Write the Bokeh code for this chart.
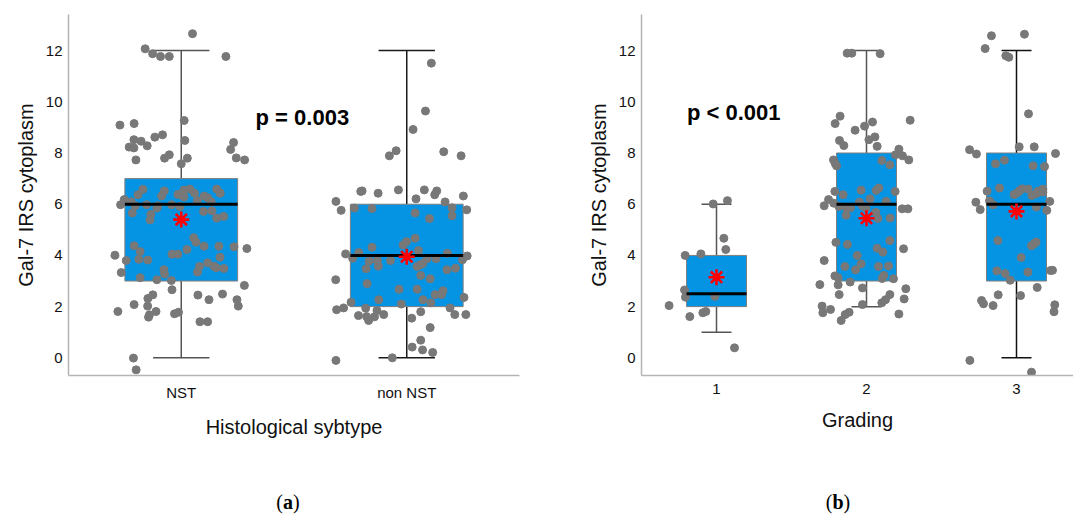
from bokeh.plotting import figure
from bokeh.models import Range1d, FactorRange, FixedTicker, Label, Div, ColumnDataSource
from bokeh.layouts import row, column
from bokeh.embed import file_html
from bokeh.resources import INLINE

# ---------------- data: panel (a) ----------------
a_categories = ["NST", "non NST"]
a_q1 = [3.0, 2.0]
a_median = [6.0, 4.0]
a_q3 = [7.0, 6.0]
a_low = [0.0, 0.0]
a_high = [12.0, 12.0]
a_mean = [5.4, 3.95]

nst_values = [12.66, 12.07, 11.88, 11.77, 11.77, 11.77, 9.27, 9.09, 9.15, 8.49, 8.52, 8.46, 8.28, 8.62,
              8.71, 8.23, 8.20, 8.41, 8.14, 7.73, 7.80, 7.93, 7.80, 7.58, 7.81, 7.73, 6.58, 6.18, 6.10,
              5.98, 6.37, 5.94, 5.66, 5.98, 5.60, 5.39, 5.94, 5.85, 6.32, 6.52, 5.98, 6.38, 5.91, 6.55,
              6.59, 6.43, 6.28, 6.15, 6.32, 6.25, 6.10, 6.59, 6.43, 5.72, 5.74, 5.46, 5.52, 4.38, 4.15,
              4.01, 3.80, 3.85, 3.82, 3.33, 4.05, 4.05, 4.23, 4.69, 4.52, 4.36, 4.36, 4.34, 4.27, 3.93,
              3.57, 3.35, 3.71, 3.58, 3.52, 3.49, 3.44, 3.28, 3.13, 3.05, 3.02, 2.83, 2.66, 2.32, 2.46,
              2.08, 2.02, 1.81, 1.68, 1.59, 1.81, 1.72, 1.78, 2.45, 2.27, 2.49, 2.27, 2.02, 1.41, 1.41,
              -0.01, -0.47]
nst_jitter = [0.050, -0.160, -0.127, -0.092, -0.053, 0.198, 0.013, -0.272, -0.209, 0.016, -0.210, -0.178,
              -0.151, -0.117, -0.083, -0.231, -0.210, 0.232, 0.219, -0.201, -0.074, -0.053, 0.027, 0.000,
              0.244, 0.281, -0.170, -0.253, -0.222, -0.269, -0.192, -0.204, -0.217, -0.154, -0.135, -0.138,
              -0.104, -0.108, -0.087, -0.075, -0.043, -0.015, -0.006, 0.012, 0.038, 0.059, 0.012, 0.071,
              0.102, 0.117, 0.133, 0.157, 0.173, 0.099, 0.136, 0.157, 0.188, -0.209, -0.182, -0.294,
              -0.244, -0.188, -0.149, -0.266, -0.041, -0.015, 0.025, 0.055, 0.065, 0.101, 0.167, 0.234,
              0.291, 0.172, 0.081, 0.072, 0.117, 0.145, 0.155, 0.189, -0.077, -0.074, -0.182, -0.108,
              -0.044, 0.280, -0.041, -0.148, -0.126, -0.209, -0.149, -0.281, -0.141, -0.145, -0.112,
              -0.030, -0.012, 0.074, 0.123, 0.183, 0.247, 0.253, 0.083, 0.117, -0.212, -0.200]

non_nst_values = [11.51, 9.64, 8.92, 7.89, 8.09, 8.05, 7.89, 6.50, 6.52, 6.43, 6.56, 6.21, 6.56, 6.37,
                  6.52, 6.09, 6.32, 6.11, 5.76, 5.85, 5.83, 5.66, 5.44, 5.86, 5.55, 5.78, 4.06, 3.89,
                  4.11, 4.32, 3.78, 3.80, 3.58, 3.48, 3.80, 4.41, 4.54, 4.67, 4.19, 3.57, 3.63, 3.68,
                  3.87, 3.87, 4.08, 3.83, 3.98, 3.44, 3.50, 3.22, 3.09, 3.05, 2.90, 2.68, 2.68, 2.47,
                  2.47, 2.62, 2.27, 2.27, 2.36, 2.17, 2.10, 2.15, 1.88, 1.95, 1.94, 1.65, 1.61, 1.46,
                  1.60, 1.85, 1.69, 1.55, 1.80, 1.95, 1.69, 1.69, 1.18, 0.42, 0.69, 0.31, 0.21, 0.00,
                  -0.10]
non_nst_jitter = [0.109, 0.083, 0.028, -0.077, -0.047, 0.164, 0.241, -0.204, -0.198, -0.127, -0.037,
                  0.041, 0.078, 0.124, 0.133, 0.170, 0.251, -0.314, -0.291, -0.232, -0.154, 0.037,
                  0.101, 0.201, 0.201, 0.266, -0.271, -0.240, -0.213, -0.154, -0.167, -0.130, -0.126,
                  -0.180, -0.072, -0.016, -0.001, 0.037, 0.052, 0.046, 0.059, 0.071, 0.090, 0.130,
                  0.180, 0.247, 0.268, 0.178, 0.216, 0.062, 0.104, -0.315, -0.176, -0.034, 0.046,
                  0.126, 0.154, 0.161, -0.124, 0.072, 0.254, -0.247, -0.024, 0.107, -0.311, -0.280,
                  -0.182, -0.214, -0.178, -0.169, -0.143, -0.132, -0.102, 0.022, 0.062, 0.192, 0.213,
                  0.262, 0.104, 0.024, 0.062, 0.070, 0.115, -0.064, -0.314]

# ---------------- data: panel (b) ----------------
b_categories = ["1", "2", "3"]
b_q1 = [2.0, 3.0, 3.0]
b_median = [2.5, 6.0, 6.0]
b_q3 = [4.0, 8.0, 8.0]
b_low = [1.0, 2.0, 0.0]
b_high = [6.0, 12.0, 12.0]
b_mean = [3.15, 5.45, 5.72]

g1_values = [6.01, 6.14, 4.67, 4.23, 4.00, 4.06, 2.65, 2.37, 2.40, 2.04, 1.61, 1.76, 1.81, 0.39]
g1_jitter = [-0.022, 0.073, 0.049, 0.062, -0.209, -0.104, -0.213, -0.207, -0.011, -0.316, -0.178,
             -0.091, -0.071, 0.120]

g2_values = [11.90, 11.90, 11.88, 9.44, 9.15, 9.21, 9.28, 9.05, 8.89, 8.63, 8.52, 8.49, 8.29, 8.26,
             8.15, 7.93, 7.89, 7.73, 7.73, 7.60, 7.50, 7.71, 7.54, 6.50, 6.37, 6.18, 5.94, 6.04, 5.91,
             5.85, 5.86, 5.57, 6.55, 6.08, 5.94, 5.86, 6.21, 6.54, 6.63, 5.68, 5.44, 6.11, 6.50, 5.46,
             5.82, 5.82, 4.51, 4.43, 3.80, 4.00, 3.67, 3.44, 3.57, 4.28, 4.13, 4.58, 4.26, 3.57, 3.59,
             3.20, 3.13, 2.96, 2.86, 2.85, 3.10, 3.22, 3.09, 2.73, 2.47, 2.47, 2.70, 2.30, 2.15, 2.27,
             2.08, 2.02, 1.76, 1.89, 1.69, 1.78, 1.46, 1.71]
g2_jitter = [-0.129, -0.098, 0.091, -0.176, -0.209, 0.040, 0.291, -0.013, -0.076, 0.056, 0.016, -0.180,
             -0.151, 0.071, 0.216, 0.193, 0.240, 0.282, -0.220, -0.209, -0.200, 0.102, 0.156, -0.211,
             -0.156, -0.253, -0.282, -0.218, -0.184, -0.133, -0.107, -0.136, -0.036, -0.047, -0.027,
             -0.004, 0.024, 0.064, 0.082, 0.062, 0.076, 0.131, 0.191, 0.158, 0.238, 0.276, -0.204,
             -0.127, -0.282, -0.062, -0.036, -0.073, -0.144, 0.071, 0.109, 0.156, 0.247, 0.080, 0.147,
             -0.211, -0.189, -0.109, -0.311, -0.189, 0.104, 0.116, 0.180, -0.027, -0.182, 0.156, 0.262,
             0.251, 0.102, 0.127, -0.027, -0.296, -0.291, -0.240, -0.142, -0.116, -0.169, 0.216]

g3_values = [12.58, 12.64, 12.08, 11.80, 11.74, 9.53, 8.13, 7.96, 8.24, 8.24, 7.58, 7.72, 7.50, 7.47,
             6.63, 6.51, 6.38, 6.45, 6.54, 6.60, 6.59, 6.34, 6.41, 6.51, 6.47, 6.59, 6.08, 5.79, 6.13,
             5.98, 5.89, 5.76, 6.11, 4.58, 4.38, 4.45, 4.52, 3.92, 3.40, 3.29, 3.35, 3.03, 3.41, 2.46,
             2.43, 2.75, 2.24, 2.11, 2.04, -0.10, -0.56, 7.98, 3.42, 2.07, 1.80]
g3_jitter = [-0.167, 0.053, -0.209, -0.071, -0.051, 0.080, -0.313, -0.267, 0.018, 0.118, -0.140, -0.080,
             0.111, 0.187, -0.113, -0.196, -0.016, 0.007, 0.022, 0.038, 0.078, 0.102, 0.131, 0.144,
             0.176, 0.176, -0.271, -0.242, -0.180, -0.156, 0.133, 0.202, 0.222, -0.124, 0.100, 0.116,
             0.131, 0.031, -0.131, -0.076, 0.076, -0.042, 0.227, -0.122, 0.027, 0.138, -0.233, -0.220,
             -0.156, -0.311, 0.100, 0.260, 0.240, 0.255, 0.250]

y_label = "Gal-7 IRS cytoplasm"
a_xlabel = "Histological sybtype"
b_xlabel = "Grading"
a_ptext = "p = 0.003"
b_ptext = "p < 0.001"

BOX_FILL = "#0494E3"
POINT = "#787878"
FONT = "Liberation Sans"


def style(p, xlabel):
    p.xgrid.visible = False
    p.ygrid.visible = False
    p.outline_line_color = None
    p.background_fill_color = "white"
    p.border_fill_color = "white"
    for ax in (p.xaxis[0], p.yaxis[0]):
        ax.axis_line_color = "#b4b4b4"
        ax.axis_line_width = 1.5
        ax.major_tick_line_color = None
        ax.minor_tick_line_color = None
        ax.major_tick_in = 0
        ax.major_tick_out = 0
        ax.minor_tick_in = 0
        ax.minor_tick_out = 0
        ax.major_label_text_font = FONT
        ax.major_label_text_font_size = "15px"
        ax.major_label_text_color = "#111111"
        ax.axis_label_text_font = FONT
        ax.axis_label_text_font_size = "20px"
        ax.axis_label_text_font_style = "normal"
        ax.axis_label_text_color = "#111111"
    p.yaxis.ticker = FixedTicker(ticks=[0, 2, 4, 6, 8, 10, 12])
    p.yaxis.major_label_standoff = 6
    p.yaxis.axis_label_standoff = 6
    p.yaxis.axis_label = y_label
    p.xaxis.major_label_standoff = 8
    p.xaxis.axis_label_standoff = 12
    p.xaxis.axis_label = xlabel


def draw(p, pos, q1, med, q3, lo, hi, mean, vals, jits, box_w, cap_w, wcolors):
    src = ColumnDataSource(dict(
        x=pos, left=[v - box_w / 2 for v in pos], right=[v + box_w / 2 for v in pos],
        q1=q1, med=med, q3=q3, lo=lo, hi=hi, mean=mean,
        cl=[v - cap_w / 2 for v in pos], cr=[v + cap_w / 2 for v in pos], wc=wcolors))
    p.segment(x0="x", y0="lo", x1="x", y1="q1", line_color="wc", line_width=1.5, source=src)
    p.segment(x0="x", y0="q3", x1="x", y1="hi", line_color="wc", line_width=1.5, source=src)
    p.segment(x0="cl", y0="hi", x1="cr", y1="hi", line_color="wc", line_width=1.5, source=src)
    p.segment(x0="cl", y0="lo", x1="cr", y1="lo", line_color="wc", line_width=1.5, source=src)
    p.quad(left="left", right="right", bottom="q1", top="q3", fill_color=BOX_FILL,
           line_color="#7f7f7f", line_width=1, source=src)
    for c, v, j in zip(pos, vals, jits):
        p.scatter(x=[c + d for d in j], y=v, size=8, fill_color=POINT, line_color=POINT)
    p.segment(x0="left", y0="med", x1="right", y1="med", line_color="black", line_width=3, source=src)
    p.scatter(x="x", y="mean", marker="asterisk", size=16, line_color="#ff0000",
              line_width=2.6, source=src)


# ---------------- panel (a) ----------------
pa = figure(width=560, height=490, x_range=FactorRange(factors=a_categories),
            y_range=Range1d(-0.69, 13.41), output_backend="svg", toolbar_location=None,
            min_border_left=68, min_border_right=41, min_border_top=14, min_border_bottom=115)
style(pa, a_xlabel)
a_pos = [i + 0.5 for i in range(len(a_categories))]
draw(pa, a_pos, a_q1, a_median, a_q3, a_low, a_high, a_mean,
     [nst_values, non_nst_values], [nst_jitter, non_nst_jitter], 0.5, 0.25,
     ["#555555", "#1a1a1a"])
pa.add_layout(Label(x=1.037, y=9.39, text=a_ptext, text_font=FONT, text_font_style="bold",
                    text_font_size="22px", text_align="center", text_baseline="middle",
                    text_color="black"))

# ---------------- panel (b) ----------------
pb = figure(width=513, height=490, x_range=Range1d(0.5, 3.38),
            y_range=Range1d(-0.69, 13.41), output_backend="svg", toolbar_location=None,
            min_border_left=81, min_border_right=0, min_border_top=14, min_border_bottom=115)
style(pb, b_xlabel)
b_pos = [i + 1 for i in range(len(b_categories))]
pb.xaxis.ticker = FixedTicker(ticks=b_pos)
pb.xaxis.major_label_overrides = {b: c for b, c in zip(b_pos, b_categories)}
draw(pb, b_pos, b_q1, b_median, b_q3, b_low, b_high, b_mean,
     [g1_values, g2_values, g3_values], [g1_jitter, g2_jitter, g3_jitter], 0.4, 0.2,
     ["#555555", "#555555", "#111111"])
pb.add_layout(Label(x=1.115, y=9.59, text=b_ptext, text_font=FONT, text_font_style="bold",
                    text_font_size="22px", text_align="center", text_baseline="middle",
                    text_color="black"))

sub_style = {"font-family": "Liberation Serif", "font-size": "20px", "text-align": "center",
             "line-height": "24px", "color": "black"}
div_a = Div(text="(<b>a</b>)", width=40, height=24, margin=(0, 0, 0, 268), styles=sub_style)
div_b = Div(text="(<b>b</b>)", width=40, height=24, margin=(0, 0, 0, 510), styles=sub_style)

layout = column(row(pa, pb), row(div_a, div_b))
open("out.html", "w").write(file_html(layout, INLINE))
